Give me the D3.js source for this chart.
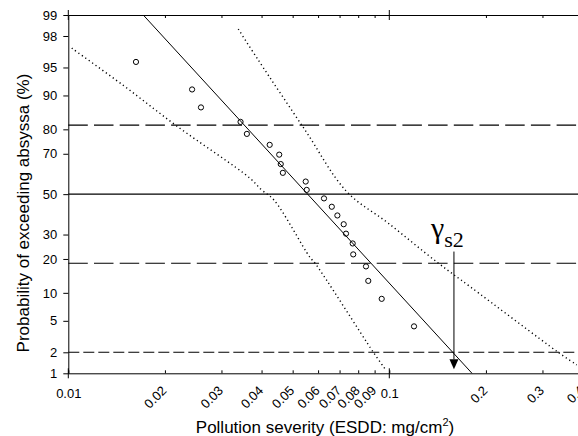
<!DOCTYPE html>
<meta charset="utf-8">
<style>
body {
  margin: 0;
  background: #fff;
}
</style>
<script src="https://d3js.org/d3.v7.min.js"></script>
<div id="chart"></div>
<script>

// observed samples (ESDD, probability of exceeding in %)
const pointX = [0.01625, 0.0243, 0.0259, 0.0344, 0.0360, 0.0424, 0.0454, 0.0459, 0.0466, 0.0549, 0.0553,
                0.0626, 0.0662, 0.0689, 0.0721, 0.0733, 0.0769, 0.0772, 0.0846, 0.0860, 0.0947, 0.1194];
const pointP = [95.7, 91.3, 87.0, 82.6, 78.3, 73.9, 69.6, 65.2, 60.9, 56.5, 52.2,
                47.8, 43.5, 39.1, 34.8, 30.4, 26.1, 21.7, 17.4, 13.0, 8.7, 4.3];

// fitted line
const fitX = [0.01712, 0.181];
const fitP = [99, 1];

// confidence bounds (dotted)
const lowerX = [0.01025, 0.01484, 0.02176, 0.0368, 0.0400, 0.0437, 0.0566, 0.0587, 0.0892, 0.0970];
const lowerP = [97.1, 92.1, 81.2, 58.2, 52.2, 47.0, 20.6, 18.5, 2.0, 1.16];
const upperX = [0.03384, 0.0391, 0.0546, 0.0737, 0.0993, 0.1418, 0.1784, 0.336, 0.3835];
const upperP = [98.4, 95.9, 79.8, 51.3, 35.3, 18.6, 11.5, 2.0, 1.33];

// horizontal reference levels (%)
const solidLevels = [50];
const longDashLevels = [81.5, 18.5];
const shortDashLevels = [2];

// axis ticks
const xTicks = [0.01, 0.02, 0.03, 0.04, 0.05, 0.06, 0.07, 0.08, 0.09, 0.1, 0.2, 0.3, 0.4];
const xLabels = ["0.01", "0.02", "0.03", "0.04", "0.05", "0.06", "0.07", "0.08", "0.09", "0.1", "0.2", "0.3", "0.4"];
const xMajor = [0.01, 0.1];
const yTicks = [1, 2, 5, 10, 20, 30, 50, 70, 80, 90, 95, 98, 99];

// gamma_s2 marker
const markX = 0.159;
const markTopP = 22.8;
const markTipP = 1.15;

// inverse of the standard normal cdf (Acklam)
function probit(p) {
  const a = [-3.969683028665376e+01, 2.209460984245205e+02, -2.759285104469687e+02, 1.383577518672690e+02, -3.066479806614716e+01, 2.506628277459239e+00];
  const b = [-5.447609879822406e+01, 1.615858368580409e+02, -1.556989798598866e+02, 6.680131188771972e+01, -1.328068155288572e+01];
  const c = [-7.784894002430293e-03, -3.223964580411365e-01, -2.400758277161838e+00, -2.549732539343734e+00, 4.374664141464968e+00, 2.938163982698783e+00];
  const d = [7.784695709041462e-03, 3.224671290700398e-01, 2.445134137142996e+00, 3.754408661907416e+00];
  const pl = 0.02425;
  if (p < pl) {
    const q = Math.sqrt(-2 * Math.log(p));
    return (((((c[0]*q+c[1])*q+c[2])*q+c[3])*q+c[4])*q+c[5]) / ((((d[0]*q+d[1])*q+d[2])*q+d[3])*q+1);
  }
  if (p > 1 - pl) {
    const q = Math.sqrt(-2 * Math.log(1 - p));
    return -(((((c[0]*q+c[1])*q+c[2])*q+c[3])*q+c[4])*q+c[5]) / ((((d[0]*q+d[1])*q+d[2])*q+d[3])*q+1);
  }
  const q = p - 0.5, r = q * q;
  return (((((a[0]*r+a[1])*r+a[2])*r+a[3])*r+a[4])*r+a[5])*q / (((((b[0]*r+b[1])*r+b[2])*r+b[3])*r+b[4])*r+1);
}

const sans = "'Liberation Sans', Arial, sans-serif";

const margin = {top: 15, left: 68.3},
    decade = 321,
    height = 358.3,
    xMax = 0.45,
    width = decade * Math.log10(xMax / 0.01);

const x = d3.scaleLog().domain([0.01, xMax]).range([0, width]);
const z = d3.scaleLinear().domain([probit(0.01), probit(0.99)]).range([height, 0]);
const y = p => z(probit(p / 100));

const svg = d3.select("#chart")
  .append("svg")
    .attr("width", 578)
    .attr("height", 436)
    .attr("font-family", sans)
  .append("g")
    .attr("transform", `translate(${margin.left},${margin.top})`);

// reference lines
function hlines(levels, dash, w) {
  svg.selectAll(null)
    .data(levels)
    .join("line")
      .attr("x1", 0)
      .attr("x2", width)
      .attr("y1", d => y(d))
      .attr("y2", d => y(d))
      .attr("stroke", "#000")
      .attr("stroke-width", w)
      .attr("stroke-dasharray", dash);
}
hlines(solidLevels, null, 1.2);
hlines(longDashLevels, "19.5,6.2", 1.1);
hlines(shortDashLevels, "11,4", 1.1);

// confidence bounds
const band = d3.line()
  .x(d => x(d[0]))
  .y(d => y(d[1]))
  .curve(d3.curveCatmullRom);

[[lowerX, lowerP], [upperX, upperP]].forEach(([bx, bp]) => {
  svg.append("path")
    .datum(bx.map((v, i) => [v, bp[i]]))
    .attr("fill", "none")
    .attr("stroke", "#000")
    .attr("stroke-width", 1.4)
    .attr("stroke-dasharray", "1.2,3")
    .attr("d", band);
});

// fitted line
svg.append("path")
  .datum(fitX.map((v, i) => [v, fitP[i]]))
  .attr("fill", "none")
  .attr("stroke", "#000")
  .attr("stroke-width", 1)
  .attr("d", d3.line().x(d => x(d[0])).y(d => y(d[1])));

// samples
svg.selectAll("circle")
  .data(pointX.map((v, i) => [v, pointP[i]]))
  .join("circle")
    .attr("cx", d => x(d[0]))
    .attr("cy", d => y(d[1]))
    .attr("r", 2.6)
    .attr("fill", "none")
    .attr("stroke", "#000")
    .attr("stroke-width", 1);

// bottom axis
const xAxis = svg.append("g")
  .attr("transform", `translate(0,${height})`)
  .call(d3.axisBottom(x).tickValues(xTicks).tickFormat((d, i) => xLabels[i]).tickSizeInner(-3).tickSizeOuter(0))
  .attr("font-family", sans)
  .attr("font-size", 13);

xAxis.selectAll(".tick text")
  .attr("dy", 0)
  .each(function(d) {
    const t = d3.select(this);
    if (xMajor.includes(d)) {
      t.attr("y", 25).attr("text-anchor", "middle");
    } else {
      t.attr("y", 0).attr("text-anchor", "end").attr("transform", "translate(2,18) rotate(-45)");
    }
  });

// top axis
svg.append("g")
  .call(d3.axisTop(x).tickValues(xTicks.filter(d => !xMajor.includes(d))).tickFormat("").tickSizeInner(-3).tickSizeOuter(0));

// major crossing ticks
[0, height].forEach(yy => {
  svg.selectAll(null)
    .data(xMajor)
    .join("line")
      .attr("x1", d => x(d))
      .attr("x2", d => x(d))
      .attr("y1", yy - 5)
      .attr("y2", yy + 5)
      .attr("stroke", "#000");
});

// left axis
svg.append("g")
  .call(d3.axisLeft(z).tickValues(yTicks.map(p => probit(p / 100))).tickFormat((d, i) => yTicks[i]).tickSizeInner(5).tickSizeOuter(0).tickPadding(6))
  .attr("font-family", sans)
  .attr("font-size", 13);

// gamma_s2 marker
const mx = x(markX);
svg.append("line")
  .attr("x1", mx).attr("x2", mx)
  .attr("y1", y(markTopP))
  .attr("y2", y(markTipP) - 10)
  .attr("stroke", "#000");
svg.append("path")
  .attr("d", `M${mx - 4.5},${y(markTipP) - 10}L${mx + 4.5},${y(markTipP) - 10}L${mx},${y(markTipP)}Z`)
  .attr("fill", "#000");

const lab = svg.append("text")
  .style("font-family", "'Liberation Serif', serif")
  .attr("x", mx - 23)
  .attr("y", y(markTopP) - 14);
lab.append("tspan").style("font-family", "'Liberation Serif', serif").attr("font-size", 30).text("γ");
lab.append("tspan").style("font-family", "'Liberation Serif', serif").attr("font-size", 22).attr("dy", 9).text("s2");

// axis titles
svg.append("text")
  .attr("transform", `translate(${29 - margin.left},${213 - margin.top}) rotate(-90)`)
  .attr("text-anchor", "middle")
  .attr("font-size", 17)
  .text("Probability of exceeding absyssa (%)");

const xt = svg.append("text")
  .attr("x", 325 - margin.left)
  .attr("y", 433 - margin.top)
  .attr("text-anchor", "middle")
  .attr("font-size", 17)
  .text("Pollution severity (ESDD: mg/cm");
xt.append("tspan").attr("font-size", 11).attr("dy", -7).text("2");
xt.append("tspan").attr("dy", 7).text(")");

</script>
